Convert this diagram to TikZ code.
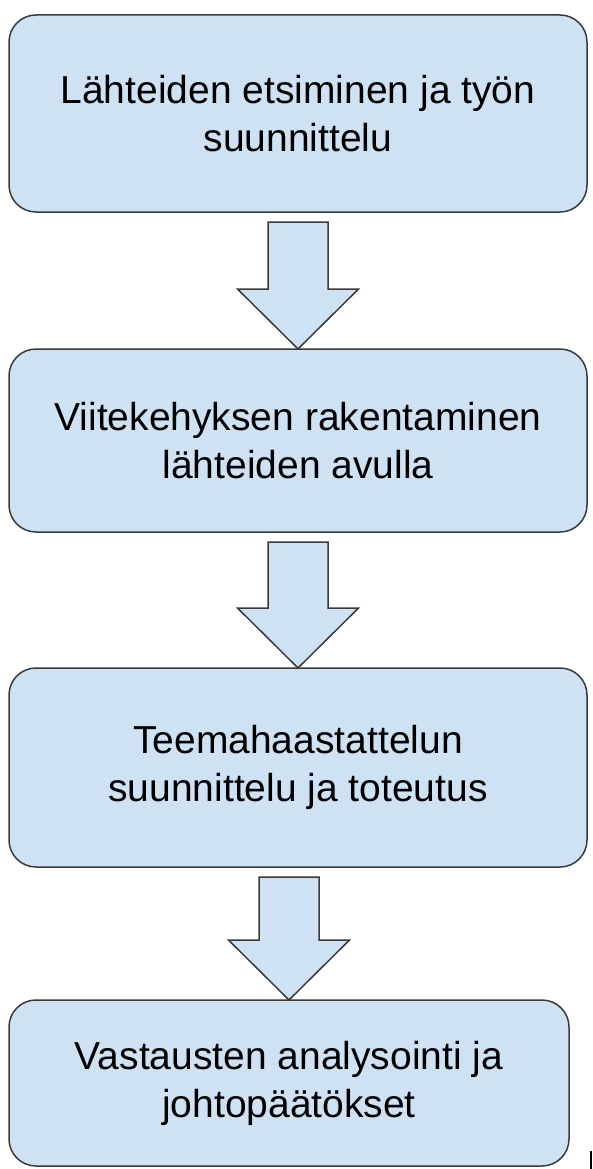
\documentclass[tikz,border=0pt]{standalone}
\usepackage{fontspec}
\setmainfont{Liberation Sans}
\usetikzlibrary{calc}

\definecolor{boxfill}{HTML}{CFE2F3}
\definecolor{boxline}{HTML}{3A3A3A}

\begin{document}
\begin{tikzpicture}[x=1pt, y=-1pt]
		\tikzstyle {phase} = [draw=boxline, fill=boxfill, line width=1.5pt, rounded corners=27pt,
		                      inner sep=0pt, outer sep=0pt, align=center,
		                      font=\fontsize{39}{48}\selectfont]
		\tikzstyle {block arrow} = [draw=boxline, fill=boxfill, line width=1.5pt, line join=miter]

		\useasboundingbox (0,0) rectangle (592,1169);

		\node[phase, minimum width=578pt, minimum height=197pt] (hahmottelu) at (298,113.5)
			{Lähteiden etsiminen ja työn\\suunnittelu};
		\node[phase, minimum width=578pt, minimum height=183pt] (viitekehys) at (298,440.5)
			{Viitekehyksen rakentaminen\\lähteiden avulla};
		\node[phase, minimum width=578pt, minimum height=199pt] (haastattelu) at (298,767.5)
			{Teemahaastattelun\\suunnittelu ja toteutus};
		\node[phase, minimum width=560pt, minimum height=166pt] (analyysi) at (289,1083)
			{Vastausten analysointi ja\\johtopäätökset};

		% nuolet vaiheesta toiseen
		\foreach \from/\to in {hahmottelu/viitekehys, viitekehys/haastattelu, haastattelu/analyysi}
			\draw[block arrow] let \p1 = (\from.south), \p2 = (\to.north) in
				(\x2-30,\y1-10) -- (\x2+30,\y1-10) -- (\x2+30,\y2+60) -- (\x2+60.5,\y2+60)
				-- (\p2) -- (\x2-60.5,\y2+60) -- (\x2-30,\y2+60) -- cycle;

		\draw[line width=2pt] (590.5,1151) -- (590.5,1169);
\end{tikzpicture}
\end{document}
